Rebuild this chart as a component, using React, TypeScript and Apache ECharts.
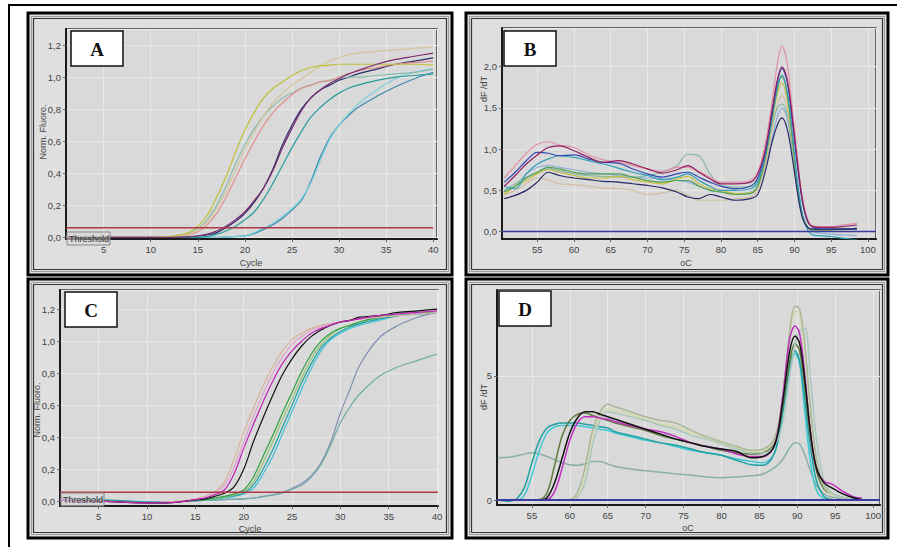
import React, { useEffect, useRef } from "react";
import * as echarts from "echarts";

// ---------------- Panel A : amplification (Norm. Fluoro. vs Cycle)
const A_CYCLES = [1, 5, 10, 12, 14, 15, 16, 17, 18, 19, 20, 21, 22, 23, 24, 25, 26, 27, 28, 29, 30, 31, 32, 34, 36, 38, 40];
const A_YELLOW = [0, 0, 0, 0.005, 0.03, 0.07, 0.14, 0.25, 0.38, 0.53, 0.67, 0.78, 0.87, 0.93, 0.97, 1.01, 1.04, 1.06, 1.07, 1.075, 1.08, 1.08, 1.08, 1.08, 1.08, 1.08, 1.075];
const A_TAN = [0, 0, 0, 0.005, 0.02, 0.05, 0.1, 0.18, 0.29, 0.42, 0.55, 0.66, 0.76, 0.84, 0.9, 0.95, 0.99, 1.03, 1.07, 1.1, 1.12, 1.14, 1.15, 1.16, 1.17, 1.18, 1.19];
const A_GRAYTEAL = [0, 0, 0, 0.005, 0.025, 0.055, 0.11, 0.2, 0.32, 0.46, 0.58, 0.68, 0.76, 0.82, 0.87, 0.9, 0.93, 0.95, 0.97, 0.98, 0.99, 1.0, 1.0, 1.01, 1.02, 1.03, 1.05];
const A_SALMON = [0, 0, 0, 0.003, 0.015, 0.035, 0.08, 0.15, 0.25, 0.37, 0.49, 0.6, 0.7, 0.78, 0.84, 0.89, 0.93, 0.95, 0.97, 0.98, 1.0, 1.02, 1.04, 1.06, 1.08, 1.09, 1.1];
const A_PURPLE = [0, 0, 0, 0, 0.003, 0.01, 0.02, 0.04, 0.07, 0.11, 0.16, 0.23, 0.31, 0.42, 0.56, 0.68, 0.79, 0.87, 0.92, 0.96, 0.99, 1.02, 1.04, 1.08, 1.11, 1.13, 1.15];
const A_NAVY = [0, 0, 0, 0, 0.002, 0.008, 0.015, 0.03, 0.06, 0.1, 0.15, 0.22, 0.31, 0.43, 0.58, 0.7, 0.8, 0.87, 0.92, 0.95, 0.98, 1.0, 1.02, 1.05, 1.08, 1.1, 1.12];
const A_TEAL = [0, 0, 0, 0, 0, 0, 0.005, 0.02, 0.04, 0.07, 0.11, 0.16, 0.24, 0.34, 0.45, 0.56, 0.66, 0.75, 0.81, 0.86, 0.9, 0.93, 0.95, 0.98, 1.0, 1.01, 1.02];
const A_CYAN = [0, 0, 0, 0, 0, 0, 0, 0, 0.003, 0.006, 0.01, 0.03, 0.06, 0.09, 0.13, 0.18, 0.24, 0.34, 0.48, 0.61, 0.7, 0.77, 0.83, 0.92, 0.99, 1.03, 1.05];
const A_BLUETEAL = [0, 0, 0, 0, 0, 0, 0, 0, 0.002, 0.005, 0.01, 0.025, 0.05, 0.08, 0.12, 0.17, 0.23, 0.35, 0.5, 0.62, 0.7, 0.76, 0.81, 0.88, 0.94, 0.99, 1.03];
const A_THRESHOLD = 0.06;

// ---------------- Panel B : melt curves (dF/dT vs oC)
const B_TEMPS = [50.5, 52, 53.5, 55, 56.5, 58, 60, 62, 64, 66, 68, 70, 72, 74, 75.5, 77, 78.5, 80, 82, 84, 85, 86, 87, 87.7, 88.3, 89, 89.7, 90.4, 91.1, 91.8, 92.5, 93.5, 95, 96.5, 98.5];
const B_PINK = [0.65, 0.8, 0.95, 1.06, 1.09, 1.05, 1.02, 0.93, 0.87, 0.84, 0.8, 0.76, 0.73, 0.78, 0.78, 0.73, 0.66, 0.6, 0.6, 0.62, 0.72, 1.05, 1.6, 2.05, 2.25, 2.05, 1.5, 0.9, 0.4, 0.15, 0.07, 0.06, 0.06, 0.08, 0.1];
const B_PURPLE = [0.55, 0.68, 0.82, 0.93, 1.02, 1.04, 0.98, 0.9, 0.84, 0.86, 0.82, 0.76, 0.71, 0.75, 0.8, 0.72, 0.64, 0.58, 0.58, 0.6, 0.7, 0.98, 1.5, 1.85, 2.0, 1.85, 1.4, 0.85, 0.38, 0.13, 0.06, 0.05, 0.05, 0.06, 0.08];
const B_BLUE = [0.6, 0.72, 0.86, 0.96, 0.95, 0.92, 0.93, 0.88, 0.84, 0.83, 0.76, 0.7, 0.66, 0.7, 0.72, 0.66, 0.6, 0.55, 0.52, 0.55, 0.65, 0.95, 1.45, 1.82, 1.98, 1.82, 1.35, 0.8, 0.35, 0.12, 0.05, 0.03, 0.03, 0.03, 0.04];
const B_TEAL = [0.55, 0.52, 0.7, 0.82, 0.88, 0.92, 0.9, 0.86, 0.82, 0.77, 0.72, 0.68, 0.63, 0.66, 0.7, 0.62, 0.55, 0.5, 0.5, 0.52, 0.6, 0.9, 1.4, 1.75, 1.9, 1.7, 1.2, 0.6, 0.2, 0.02, -0.04, -0.05, -0.06, -0.08, -0.1];
const B_LIGHTBLUE = [0.5, 0.55, 0.7, 0.78, 0.8, 0.78, 0.75, 0.72, 0.7, 0.68, 0.66, 0.65, 0.64, 0.62, 0.6, 0.55, 0.5, 0.48, 0.46, 0.48, 0.56, 0.8, 1.15, 1.4, 1.5, 1.38, 1.0, 0.55, 0.2, 0.05, 0.0, -0.02, -0.03, -0.04, -0.05];
const B_YELLOW = [0.45, 0.55, 0.62, 0.7, 0.75, 0.72, 0.68, 0.65, 0.65, 0.67, 0.63, 0.6, 0.58, 0.64, 0.67, 0.58, 0.52, 0.5, 0.46, 0.47, 0.55, 0.85, 1.35, 1.68, 1.8, 1.6, 1.1, 0.55, 0.2, 0.05, 0.02, 0.02, 0.02, 0.03, 0.04];
const B_TAN = [0.45, 0.5, 0.58, 0.65, 0.63, 0.58, 0.57, 0.55, 0.53, 0.52, 0.5, 0.45, 0.47, 0.5, 0.44, 0.38, 0.38, 0.38, 0.4, 0.42, 0.5, 0.8, 1.25, 1.55, 1.65, 1.48, 1.02, 0.5, 0.18, 0.05, 0.02, 0.02, 0.02, 0.02, 0.03];
const B_GRAYTEAL = [0.5, 0.58, 0.66, 0.72, 0.76, 0.74, 0.7, 0.68, 0.67, 0.66, 0.66, 0.68, 0.72, 0.8, 0.94, 0.92, 0.7, 0.56, 0.54, 0.55, 0.62, 0.9, 1.3, 1.5, 1.55, 1.42, 1.0, 0.52, 0.18, 0.05, 0.02, 0.02, 0.02, 0.03, 0.04];
const B_GREEN = [0.48, 0.55, 0.65, 0.72, 0.78, 0.76, 0.72, 0.7, 0.7, 0.7, 0.66, 0.62, 0.6, 0.62, 0.62, 0.55, 0.5, 0.48, 0.45, 0.46, 0.55, 0.88, 1.4, 1.75, 1.88, 1.68, 1.15, 0.58, 0.2, 0.05, 0.02, 0.02, 0.02, 0.03, 0.04];
const B_NAVY = [0.4, 0.44, 0.5, 0.6, 0.72, 0.68, 0.65, 0.63, 0.61, 0.6, 0.58, 0.56, 0.53, 0.48, 0.42, 0.4, 0.45, 0.42, 0.38, 0.4, 0.45, 0.72, 1.1, 1.3, 1.38, 1.25, 0.9, 0.48, 0.16, 0.05, 0.03, 0.03, 0.03, 0.03, 0.03];

// ---------------- Panel C : amplification
const C_CYCLES = [1, 5, 10, 12, 14, 15, 16, 17, 18, 19, 20, 21, 22, 23, 24, 25, 26, 27, 28, 29, 30, 31, 32, 34, 36, 38, 40];
const C_TAN = [0.01, 0.0, -0.01, -0.005, 0.005, 0.015, 0.03, 0.06, 0.12, 0.26, 0.43, 0.58, 0.72, 0.84, 0.94, 1.01, 1.05, 1.08, 1.1, 1.11, 1.12, 1.13, 1.14, 1.15, 1.16, 1.17, 1.18];
const C_PINK = [0.01, 0, -0.01, -0.008, 0.002, 0.01, 0.025, 0.05, 0.1, 0.21, 0.37, 0.53, 0.67, 0.8, 0.9, 0.98, 1.03, 1.07, 1.09, 1.11, 1.12, 1.13, 1.14, 1.16, 1.17, 1.18, 1.19];
const C_MAGENTA = [0.005, 0, -0.01, -0.01, 0, 0.01, 0.02, 0.04, 0.07, 0.17, 0.33, 0.48, 0.62, 0.75, 0.86, 0.94, 1.0, 1.05, 1.08, 1.1, 1.12, 1.13, 1.14, 1.16, 1.17, 1.18, 1.19];
const C_BLACK = [0.005, 0, -0.01, -0.01, 0, 0.008, 0.015, 0.03, 0.05, 0.09, 0.2, 0.37, 0.52, 0.66, 0.79, 0.89, 0.97, 1.03, 1.07, 1.1, 1.12, 1.13, 1.15, 1.16, 1.18, 1.19, 1.2];
const C_GREEN = [0.01, 0.005, -0.01, -0.01, 0, 0.005, 0.01, 0.02, 0.03, 0.045, 0.07, 0.15, 0.28, 0.41, 0.55, 0.68, 0.81, 0.92, 1.0, 1.05, 1.08, 1.1, 1.12, 1.15, 1.17, 1.18, 1.18];
const C_LIGHTGREEN = [0.01, 0.005, -0.01, -0.01, 0, 0.005, 0.01, 0.015, 0.025, 0.04, 0.06, 0.12, 0.24, 0.37, 0.51, 0.64, 0.77, 0.89, 0.98, 1.04, 1.08, 1.1, 1.12, 1.15, 1.17, 1.18, 1.18];
const C_TEAL = [0.015, 0.01, -0.005, -0.008, 0, 0.004, 0.01, 0.015, 0.025, 0.035, 0.05, 0.1, 0.2, 0.32, 0.46, 0.6, 0.74, 0.86, 0.96, 1.02, 1.06, 1.09, 1.11, 1.14, 1.16, 1.17, 1.18];
const C_CYAN = [0.01, 0.005, -0.005, -0.008, 0, 0.003, 0.008, 0.012, 0.02, 0.03, 0.045, 0.08, 0.17, 0.28, 0.42, 0.56, 0.7, 0.83, 0.94, 1.01, 1.05, 1.08, 1.1, 1.13, 1.16, 1.17, 1.18];
const C_GRAYBLUE = [0.01, 0.005, -0.005, -0.005, 0, 0.002, 0.005, 0.007, 0.01, 0.012, 0.015, 0.02, 0.03, 0.04, 0.055, 0.08, 0.11, 0.16, 0.24, 0.37, 0.55, 0.7, 0.85, 1.02, 1.1, 1.15, 1.18];
const C_GRAYTEAL = [0.01, 0.005, -0.005, -0.005, 0, 0.002, 0.005, 0.007, 0.01, 0.012, 0.015, 0.02, 0.028, 0.038, 0.05, 0.075, 0.1, 0.15, 0.23, 0.35, 0.49, 0.59, 0.67, 0.78, 0.84, 0.88, 0.92];
const C_THRESHOLD = 0.056;

// ---------------- Panel D : melt curves
const D_TEMPS = [50.5, 52, 53, 54, 55, 56, 57, 58, 59, 60, 61, 62, 63, 64, 65, 66, 68, 70, 72, 74, 76, 78, 80, 82, 84, 85.5, 87, 88, 89, 89.7, 90.3, 91, 91.7, 92.5, 93.5, 94.5, 96, 97.5, 98.5];
const D_LOWTEAL = [1.7, 1.72, 1.78, 1.85, 1.9, 1.85, 1.75, 1.62, 1.5, 1.42, 1.4, 1.45, 1.55, 1.55, 1.45, 1.35, 1.25, 1.18, 1.12, 1.05, 1.0, 0.93, 0.9, 0.93, 0.98, 1.05, 1.3, 1.6, 2.1, 2.3, 2.25, 1.8, 1.2, 0.6, 0.25, 0.12, 0.05, 0.02, 0.0];
const D_TEAL = [0, -0.05, 0.05, 0.5, 1.5, 2.4, 2.9, 3.05, 3.1, 3.1, 3.1, 3.05, 3.0, 2.95, 2.9, 2.75, 2.6, 2.45, 2.3, 2.2, 2.05, 1.9, 1.8, 1.6, 1.42, 1.4, 1.9, 3.4, 5.4, 6.0, 5.6, 4.0, 2.2, 0.8, 0.15, 0.02, 0, 0, 0];
const D_CYAN = [0, 0, 0, 0.2, 1.0, 2.0, 2.7, 2.95, 3.0, 3.0, 3.0, 2.95, 2.9, 2.85, 2.8, 2.7, 2.55, 2.4, 2.3, 2.15, 2.0, 1.9, 1.8, 1.65, 1.55, 1.5, 1.9, 3.4, 5.2, 5.9, 5.5, 3.5, 1.6, 0.4, 0.05, 0, 0, 0, 0];
const D_OLIVE = [0, 0, 0, 0, 0, 0.02, 0.3, 1.4, 2.6, 3.2, 3.45, 3.5, 3.4, 3.3, 3.2, 3.1, 2.95, 2.8, 2.6, 2.45, 2.3, 2.15, 2.0, 1.9, 1.85, 1.9, 2.3, 3.6, 5.6, 6.3, 6.0, 4.5, 2.6, 1.2, 0.45, 0.25, 0.1, 0.03, 0];
const D_BLACK = [0, 0, 0, 0, 0, 0, 0.1, 0.7, 1.7, 2.7, 3.3, 3.55, 3.55, 3.45, 3.35, 3.25, 3.05, 2.85, 2.65, 2.45, 2.3, 2.15, 2.05, 1.95, 1.7, 1.75, 2.2, 3.8, 6.0, 6.6, 6.3, 4.8, 2.8, 1.3, 0.7, 0.5, 0.25, 0.08, 0.02];
const D_MAGENTA = [0, 0, 0, 0, 0, 0, 0.02, 0.35, 1.3, 2.4, 3.1, 3.35, 3.35, 3.3, 3.25, 3.15, 3.0, 2.85, 2.75, 2.55, 2.3, 2.15, 2.05, 1.85, 1.75, 1.75, 2.2, 4.0, 6.5, 7.0, 6.7, 5.0, 2.8, 1.3, 0.75, 0.65, 0.35, 0.12, 0.08];
const D_GRAYGREEN = [0, 0, 0, 0, 0, 0, 0, 0, 0, 0.02, 0.3, 1.3, 2.8, 3.55, 3.85, 3.75, 3.55, 3.35, 3.2, 3.1, 2.8, 2.55, 2.35, 2.15, 2.0, 2.05, 2.5, 4.0, 6.8, 7.8, 7.7, 6.2, 3.8, 1.7, 0.6, 0.3, 0.1, 0.02, 0];
const D_LIGHTYELLOW = [0, 0, 0, 0, 0, 0, 0, 0, 0, 0, 0.15, 0.9, 2.4, 3.35, 3.65, 3.6, 3.45, 3.25, 3.05, 2.95, 2.7, 2.5, 2.3, 2.1, 1.95, 2.0, 2.45, 3.9, 6.5, 7.6, 7.5, 6.0, 3.6, 1.6, 0.55, 0.25, 0.08, 0.02, 0];
const D_PALETEAL = [0, 0, 0, 0, 0, 0, 0, 0, 0, 0, 0.1, 0.7, 2.2, 3.2, 3.55, 3.5, 3.35, 3.2, 3.0, 2.85, 2.6, 2.45, 2.25, 2.05, 1.9, 1.9, 2.2, 3.0, 5.0, 6.3, 6.8, 6.9, 5.0, 2.5, 0.8, 0.3, 0.1, 0.02, 0];

// ---------------- tables built from the arrays
const A_CURVES = [
  { color: "#2c2c6c", values: A_NAVY },
  { color: "#3a86a8", values: A_BLUETEAL },
  { color: "#78d0e0", values: A_CYAN },
  { color: "#2a9c9c", values: A_TEAL },
  { color: "#88bcb0", values: A_GRAYTEAL },
  { color: "#e0908a", values: A_SALMON },
  { color: "#d4c49a", values: A_TAN },
  { color: "#c0c038", values: A_YELLOW },
  { color: "#7a2a6e", values: A_PURPLE },
];
const B_CURVES = [
  { color: "#90b0d8", values: B_LIGHTBLUE },
  { color: "#d0c0a0", values: B_TAN },
  { color: "#88b8a8", values: B_GRAYTEAL },
  { color: "#c8c040", values: B_YELLOW },
  { color: "#50a050", values: B_GREEN },
  { color: "#30a0b8", values: B_TEAL },
  { color: "#e090a8", values: B_PINK },
  { color: "#3048b0", values: B_BLUE },
  { color: "#902060", values: B_PURPLE },
  { color: "#282868", values: B_NAVY },
];
const C_CURVES = [
  { color: "#8090b0", values: C_GRAYBLUE },
  { color: "#70aca4", values: C_GRAYTEAL },
  { color: "#40c0d8", values: C_CYAN },
  { color: "#20a0a0", values: C_TEAL },
  { color: "#98c070", values: C_LIGHTGREEN },
  { color: "#30a040", values: C_GREEN },
  { color: "#d8b49c", values: C_TAN },
  { color: "#e0a0d0", values: C_PINK },
  { color: "#111111", values: C_BLACK },
  { color: "#c020b8", values: C_MAGENTA },
];
const D_CURVES = [
  { color: "#88b0a8", values: D_LOWTEAL },
  { color: "#40c8d8", values: D_CYAN },
  { color: "#20a0a0", values: D_TEAL },
  { color: "#607a40", values: D_OLIVE },
  { color: "#d8d8a8", values: D_LIGHTYELLOW },
  { color: "#a8b898", values: D_GRAYGREEN },
  { color: "#a8c8c0", values: D_PALETEAL },
  { color: "#c030c0", values: D_MAGENTA },
  { color: "#111111", values: D_BLACK },
];

const comma1 = (v: number) => v.toFixed(1).replace(".", ",");
const intFmt = (v: number) => String(Math.round(v));

function axis(gridIndex: number, min: number, max: number, splitNumber: number, fmt: (v: number) => string) {
  return {
    type: "value",
    gridIndex,
    min,
    max,
    splitNumber,
    axisLine: { show: true, onZero: false, lineStyle: { color: "#1a1a1a", width: 2 } },
    axisTick: { show: true, length: 3, lineStyle: { color: "#666" } },
    axisLabel: {
      color: "#444",
      fontSize: 9.5,
      fontFamily: "Liberation Sans, Arial, sans-serif",
      formatter: fmt,
      showMinLabel: false,
      showMaxLabel: false,
      margin: 5,
    },
    splitLine: { show: true, lineStyle: { color: "#e9e9e9", width: 1 } },
  };
}

function lineSeries(xs: number[], curves: any[], gi: number, width: number) {
  return curves.map((c) => ({
    type: "line",
    xAxisIndex: gi,
    yAxisIndex: gi,
    data: xs.map((x, i) => [x, c.values[i]]),
    smooth: 0.35,
    showSymbol: false,
    symbol: "none",
    silent: true,
    clip: true,
    z: 3,
    lineStyle: { color: c.color, width },
    itemStyle: { color: c.color },
  }));
}

function flatLine(gi: number, x0: number, x1: number, y: number, color: string, width: number) {
  return {
    type: "line",
    xAxisIndex: gi,
    yAxisIndex: gi,
    data: [[x0, y], [x1, y]],
    showSymbol: false,
    symbol: "none",
    silent: true,
    z: 4,
    lineStyle: { color, width },
  };
}

const FRAME_FILL = "#dfdfdf";
function frame(x: number, y: number, w: number, h: number) {
  return [
    { type: "rect", z: -10, shape: { x, y, width: w, height: h }, style: { fill: FRAME_FILL, stroke: "#000", lineWidth: 3 } },
    { type: "rect", z: -9, shape: { x: x + 3.5, y: y + 3.5, width: w - 7, height: h - 7 }, style: { fill: "none", stroke: "#9a9a9a", lineWidth: 1 } },
    { type: "rect", z: -9, shape: { x: x + 5.5, y: y + 5.5, width: w - 11, height: h - 11 }, style: { fill: "none", stroke: "#333", lineWidth: 1.2 } },
  ];
}
function letterBox(x: number, y: number, letter: string) {
  return [
    { type: "rect", z: 100, shape: { x, y, width: 52, height: 35 }, style: { fill: "#fff", stroke: "#111", lineWidth: 1.5 } },
    {
      type: "text", z: 101, x: x + 26, y: y + 18,
      style: { text: letter, font: 'bold 19px "Liberation Serif", "Times New Roman", serif', fill: "#111", align: "center", verticalAlign: "middle", textAlign: "center", textVerticalAlign: "middle" },
    },
  ];
}
function hText(x: number, y: number, text: string) {
  return {
    type: "text", z: 50, x, y,
    style: { text, font: '9px "Liberation Sans", Arial, sans-serif', fill: "#444", align: "center", verticalAlign: "middle", textAlign: "center", textVerticalAlign: "middle" },
  };
}
function vText(x: number, y: number, text: string) {
  return {
    type: "text", z: 50, x, y, rotation: Math.PI / 2,
    style: { text, font: '9px "Liberation Sans", Arial, sans-serif', fill: "#444", align: "center", verticalAlign: "middle", textAlign: "center", textVerticalAlign: "middle" },
  };
}
function thresholdLabel(x: number, y: number) {
  return [
    { type: "rect", z: 60, shape: { x, y, width: 43, height: 13 }, style: { fill: "rgba(215,215,215,0.6)", stroke: "#888", lineWidth: 1 } },
    {
      type: "text", z: 61, x: x + 2, y: y + 7,
      style: { text: "Threshold", font: '9px "Liberation Sans", Arial, sans-serif', fill: "#333", align: "left", verticalAlign: "middle", textAlign: "left", textVerticalAlign: "middle" },
    },
  ];
}

const GRID_STYLE = { show: true, backgroundColor: "#d9d9d9", borderColor: "#3a3a3a", borderWidth: 1.5 };

export default function App() {
  const ref = useRef<HTMLDivElement>(null);
  useEffect(() => {
    if (!ref.current) return;
    const chart = echarts.init(ref.current, null, { renderer: "svg" });
    const option: any = {
      animation: false,
      backgroundColor: "#ffffff",
      grid: [
        { ...GRID_STYLE, left: 66, top: 29, width: 371, height: 210 },
        { ...GRID_STYLE, left: 502, top: 28, width: 374, height: 211 },
        { ...GRID_STYLE, left: 60, top: 290, width: 378, height: 216 },
        { ...GRID_STYLE, left: 497, top: 290, width: 383, height: 215 },
      ],
      xAxis: [
        axis(0, 1, 40.4, 8, intFmt),
        axis(1, 50.2, 101.1, 10, intFmt),
        axis(2, 1, 40.1, 8, intFmt),
        axis(3, 50.4, 100.9, 10, intFmt),
      ],
      yAxis: [
        axis(0, -0.01, 1.3, 7, comma1),
        axis(1, -0.09, 2.47, 5, comma1),
        axis(2, -0.03, 1.32, 7, comma1),
        axis(3, -0.2, 8.45, 2, intFmt),
      ],
      series: [
        flatLine(0, 1, 40, A_THRESHOLD, "#b03848", 1.5),
        ...lineSeries(A_CYCLES, A_CURVES, 0, 1.2),
        flatLine(1, 50.2, 101.1, 0, "#3a3aa0", 1.5),
        ...lineSeries(B_TEMPS, B_CURVES, 1, 1.2),
        flatLine(2, 1, 40.1, C_THRESHOLD, "#b03848", 1.5),
        ...lineSeries(C_CYCLES, C_CURVES, 2, 1.2),
        flatLine(3, 50.4, 100.9, 0, "#3a3aa0", 2),
        ...lineSeries(D_TEMPS, D_CURVES, 3, 1.5),
      ],
      graphic: {
        elements: [
          { type: "line", z: 5, shape: { x1: 8, y1: 5, x2: 897, y2: 5 }, style: { stroke: "#000", lineWidth: 2 } },
          { type: "line", z: 5, shape: { x1: 9, y1: 5, x2: 9, y2: 547 }, style: { stroke: "#000", lineWidth: 2 } },
          ...frame(28, 13, 424, 262),
          ...frame(466, 13, 422, 262),
          ...frame(28, 279, 424, 259),
          ...frame(466, 279, 422, 259),
          ...letterBox(71, 31, "A"),
          ...letterBox(504, 31, "B"),
          ...letterBox(65, 292, "C"),
          ...letterBox(499, 291, "D"),
          ...thresholdLabel(67, 232),
          ...thresholdLabel(61, 493),
          hText(251, 263, "Cycle"),
          hText(686, 263, "oC"),
          hText(250, 529, "Cycle"),
          hText(688, 528, "oC"),
          vText(43, 132, "Norm. Fluoro."),
          vText(484, 89, "dF /dT"),
          vText(37, 410, "Norm. Fluoro."),
          vText(484, 397, "dF /dT"),
        ],
      },
    };
    chart.setOption(option);
    return () => chart.dispose();
  }, []);
  return (
    <div
      ref={ref}
      style={{ position: "absolute", left: 0, top: 0, width: 897, height: 547, background: "#fff" }}
    />
  );
}
